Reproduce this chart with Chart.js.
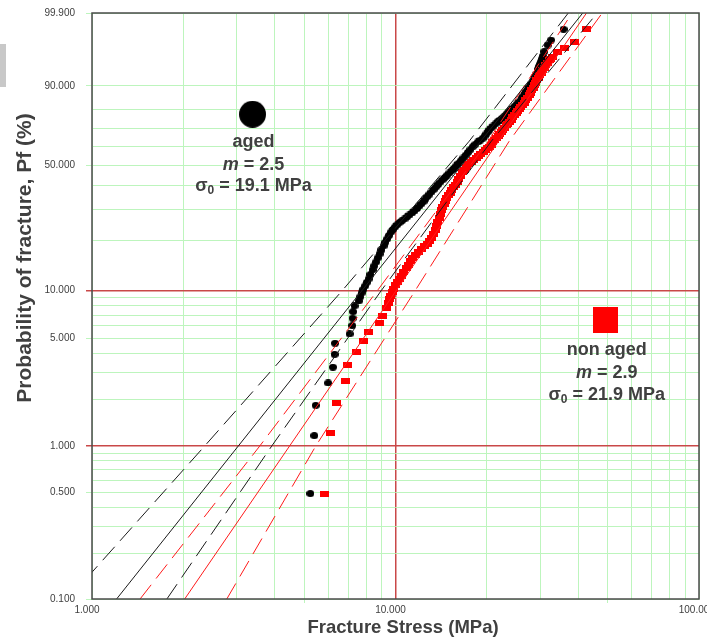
<!DOCTYPE html>
<html>
<head>
<meta charset="utf-8">
<title>Weibull plot - aged / non aged</title>
<script src="https://cdn.jsdelivr.net/npm/chart.js@4.4.1/dist/chart.umd.min.js"></script>
<style>
  html, body { margin: 0; padding: 0; background: #fff; }
  #wrap { position: relative; width: 707px; height: 643px; }
  #tab { position: absolute; left: 0; top: 44px; width: 6px; height: 43px; background: #c8c8c8; }
</style>
</head>
<body>
<div id="wrap">
  <canvas id="weibullChart" width="707" height="643"></canvas>
  <div id="tab"></div>
</div>
<script>
// Aged specimens: fracture stress (MPa) and probability of fracture (%)
const agedStress = [5.24, 5.40, 5.46, 6.00, 6.22, 6.30, 6.32, 7.06, 7.20, 7.22,
    7.25, 7.33, 7.57, 7.65, 7.73, 7.83, 7.94, 8.04, 8.15, 8.27,
    8.40, 8.51, 8.63, 8.74, 8.86, 8.99, 9.13, 9.25, 9.38, 9.52,
    9.67, 9.81, 9.96, 10.13, 10.31, 10.50, 10.71, 10.91, 11.12, 11.33,
    11.55, 11.77, 11.99, 12.18, 12.37, 12.55, 12.74, 12.94, 13.14, 13.36,
    13.59, 13.82, 14.06, 14.30, 14.55, 14.80, 15.05, 15.31, 15.57, 15.84,
    16.12, 16.43, 16.74, 17.03, 17.32, 17.65, 17.98, 18.33, 18.68, 19.03,
    19.38, 19.65, 19.92, 20.15, 20.38, 20.69, 21.01, 21.36, 21.71, 22.05,
    22.40, 22.76, 23.13, 23.42, 23.71, 24.01, 24.31, 24.70, 25.10, 25.50,
    25.91, 26.14, 26.37, 26.64, 26.91, 27.25, 27.60, 27.94, 28.29, 28.58,
    28.87, 29.12, 29.38, 29.57, 29.76, 29.95, 30.15, 30.33, 30.51, 30.91,
    31.70, 32.53, 35.78];
const agedPf = [0.49, 1.17, 1.84, 2.57, 3.25, 3.93, 4.63, 5.31, 6.00, 6.68,
    7.35, 7.99, 8.58, 9.10, 9.62, 10.13, 10.64, 11.19, 11.75, 12.53,
    13.34, 14.12, 14.92, 15.78, 16.66, 17.61, 18.59, 19.50, 20.43, 21.42,
    22.43, 23.18, 23.95, 24.67, 25.41, 25.99, 26.58, 27.27, 27.98, 28.70,
    29.43, 30.37, 31.33, 32.22, 33.13, 34.16, 35.20, 36.17, 37.15, 38.26,
    39.39, 40.55, 41.72, 42.80, 43.89, 45.00, 46.12, 47.26, 48.41, 49.71,
    51.02, 52.48, 53.95, 55.44, 56.94, 58.53, 60.13, 61.44, 62.73, 63.76,
    64.79, 65.97, 67.16, 68.26, 69.36, 70.45, 71.54, 72.69, 73.84, 74.67,
    75.51, 76.41, 77.31, 78.18, 79.06, 79.84, 80.63, 81.63, 82.64, 83.53,
    84.43, 85.28, 86.13, 86.99, 87.85, 88.77, 89.70, 90.54, 91.38, 92.16,
    92.94, 93.58, 94.22, 94.82, 95.42, 95.89, 96.36, 96.80, 97.23, 97.88,
    98.59, 98.99, 99.55];

// Non aged specimens
const nonAgedStress = [5.84, 6.11, 6.41, 6.83, 6.95, 7.44, 7.86, 8.13, 8.86, 9.08,
    9.36, 9.51, 9.58, 9.66, 9.75, 9.85, 10.00, 10.15, 10.30, 10.46,
    10.64, 10.83, 11.01, 11.20, 11.41, 11.63, 11.90, 12.18, 12.46, 12.74,
    12.96, 13.19, 13.36, 13.54, 13.67, 13.80, 13.93, 14.06, 14.19, 14.33,
    14.46, 14.60, 14.77, 14.94, 15.14, 15.34, 15.54, 15.75, 15.96, 16.18,
    16.39, 16.61, 16.86, 17.12, 17.45, 17.78, 18.12, 18.47, 18.78, 19.10,
    19.44, 19.78, 20.08, 20.38, 20.65, 20.93, 21.21, 21.49, 21.78, 22.07,
    22.32, 22.58, 22.88, 23.18, 23.44, 23.71, 24.03, 24.35, 24.65, 24.95,
    25.26, 25.58, 25.90, 26.23, 26.55, 26.87, 27.23, 27.60, 27.86, 28.12,
    28.39, 28.66, 28.93, 29.21, 29.48, 29.76, 30.16, 30.56, 30.93, 31.30,
    31.70, 32.10, 32.50, 32.91, 34.19, 35.97, 38.80, 42.72];
const nonAgedPf = [0.49, 1.21, 1.92, 2.65, 3.34, 4.05, 4.81, 5.49, 6.21, 6.94,
    7.72, 8.37, 8.79, 9.22, 9.70, 10.19, 10.72, 11.26, 11.76, 12.26,
    12.94, 13.62, 14.37, 15.12, 15.78, 16.44, 17.14, 17.84, 18.47, 19.10,
    19.90, 20.71, 21.87, 23.03, 24.30, 25.57, 26.95, 28.34, 29.64, 30.95,
    32.14, 33.33, 34.48, 35.63, 36.83, 38.03, 39.17, 40.31, 41.73, 43.16,
    44.76, 46.37, 47.77, 49.18, 50.49, 51.81, 52.88, 53.95, 55.03, 56.12,
    57.21, 58.31, 59.22, 60.13, 61.29, 62.46, 63.70, 64.95, 66.05, 67.16,
    68.26, 69.36, 70.58, 71.81, 72.82, 73.84, 74.93, 76.03, 77.10, 78.17,
    79.22, 80.28, 81.22, 82.17, 83.30, 84.43, 85.49, 86.55, 87.52, 88.50,
    89.39, 90.29, 91.10, 91.91, 92.63, 93.36, 94.00, 94.63, 95.18, 95.73,
    96.15, 96.58, 96.89, 97.20, 97.88, 98.27, 98.87, 99.55];

// Fitted lines, stress at the two ends (Pf 0.1 % and 99.9 %)
const fitPf = [0.1, 99.9];
const agedFitStress = [1.205, 41.4];
const nonAgedFitStress = [2.02, 42.6];

// Confidence bounds (dashed), stress read at these Pf levels
const boundPf = [0.1, 1, 10, 63.2, 99.9];
const agedBoundLeft = [0.834, 2.35, 6.69, 17.5, 37.1];
const agedBoundRight = [1.765, 3.91, 8.99, 20.7, 46.2];
const nonAgedBoundLeft = [1.44, 3.57, 8.73, 20.2, 38.2];
const nonAgedBoundRight = [2.78, 5.46, 11.63, 23.7, 48.0];

// Legend markers and notes
const agedMarker = [3.38, 77.7];
const nonAgedMarker = [49.3, 6.5];
const agedNote = ['aged', '2.5', '19.1'];
const nonAgedNote = ['non aged', '2.9', '21.9'];

// Axes
const xGrid = [1, 2, 3, 4, 5, 6, 7, 8, 9, 10, 20, 30, 40, 50, 60, 70, 80, 90, 100];
const xLabelAt = [1, 10, 100];
const xLabelText = ['1.000', '10.000', '100.00'];
const yGridPf = [0.1, 0.2, 0.3, 0.4, 0.5, 0.6, 0.7, 0.8, 0.9, 1, 2, 3, 4, 5, 6, 7, 8, 9, 10, 20, 30, 40, 50, 60, 70, 80, 90, 99.9];
const yLabelAt = [0.1, 0.5, 1, 5, 10, 50, 90, 99.9];
const yLabelText = ['0.100', '0.500', '1.000', '5.000', '10.000', '50.000', '90.000', '99.900'];

const FONT = '"Liberation Sans", Arial, sans-serif';
const GREEN = '#bdf5bd';
const RED_GRID = '#c94848';
const TEXT = '#404040';

// Weibull probability transform: ln(-ln(1 - F))
const weib = pf => Math.log(-Math.log(1 - pf / 100));

function pairs(xs, pfs) {
    return xs.map((s, i) => ({ x: s, y: weib(pfs[i]) }));
}

function makeMarker(w, h, color, round) {
    const c = document.createElement('canvas');
    c.width = w; c.height = h;
    const g = c.getContext('2d');
    g.fillStyle = color;
    if (round) {
        g.beginPath();
        g.ellipse(w / 2, h / 2, w / 2, h / 2, 0, 0, Math.PI * 2);
        g.fill();
    } else {
        g.fillRect(0, 0, w, h);
    }
    return c;
}

function lineSet(xs, pfs, color, dashed) {
    return {
        data: pairs(xs, pfs),
        showLine: true,
        borderColor: color,
        borderWidth: 1,
        borderDash: dashed ? [18, 8] : [],
        pointRadius: 0,
        tension: 0,
        order: 0
    };
}

// Text under the legend markers
function drawNote(ctx, cx, cy, note, dy) {
    const [name, m, s0] = note;
    const bold = `bold 18px ${FONT}`;
    const italic = `italic bold 18px ${FONT}`;
    const small = `bold 12px ${FONT}`;
    ctx.fillStyle = TEXT;
    ctx.textBaseline = 'middle';

    ctx.font = bold;
    ctx.textAlign = 'center';
    ctx.fillText(name, cx, cy + dy[0]);

    // m = x.x
    ctx.textAlign = 'left';
    ctx.font = italic;
    const wm = ctx.measureText('m').width;
    ctx.font = bold;
    const rest = ' = ' + m;
    const wr = ctx.measureText(rest).width;
    let x0 = cx - (wm + wr) / 2;
    ctx.font = italic;
    ctx.fillText('m', x0, cy + dy[1]);
    ctx.font = bold;
    ctx.fillText(rest, x0 + wm, cy + dy[1]);

    // sigma0 = xx.x MPa
    const tail = ' = ' + s0 + ' MPa';
    const ws = ctx.measureText('σ').width;
    const wt = ctx.measureText(tail).width;
    ctx.font = small;
    const w0 = ctx.measureText('0').width;
    x0 = cx - (ws + w0 + wt) / 2;
    ctx.font = bold;
    ctx.fillText('σ', x0, cy + dy[2]);
    ctx.font = small;
    ctx.fillText('0', x0 + ws, cy + dy[2] + 5);
    ctx.font = bold;
    ctx.fillText(tail, x0 + ws + w0, cy + dy[2]);
}

const framePlugin = {
    id: 'frameAndText',
    afterDraw(chart) {
        const { ctx, chartArea: a, scales: { x, y } } = chart;
        ctx.save();
        ctx.strokeStyle = '#4a4a4a';
        ctx.lineWidth = 1.5;
        ctx.strokeRect(a.left, a.top, a.right - a.left, a.bottom - a.top);

        // axis titles
        ctx.fillStyle = TEXT;
        ctx.textAlign = 'center';
        ctx.textBaseline = 'middle';
        ctx.font = `bold 18.5px ${FONT}`;
        ctx.fillText('Fracture Stress (MPa)', 403, 628);
        ctx.save();
        ctx.translate(25, 258);
        ctx.rotate(-Math.PI / 2);
        ctx.font = `bold 21px ${FONT}`;
        ctx.fillText('Probability of fracture, Pf (%)', 0, 0);
        ctx.restore();

        drawNote(ctx, x.getPixelForValue(agedMarker[0]) + 1, y.getPixelForValue(weib(agedMarker[1])), agedNote, [27.5, 50.5, 71.5]);
        drawNote(ctx, x.getPixelForValue(nonAgedMarker[0]) + 1, y.getPixelForValue(weib(nonAgedMarker[1])), nonAgedNote, [30, 52.5, 75]);
        ctx.restore();
    }
};

const blackDot = makeMarker(8, 7, '#000', true);
const redSquare = makeMarker(9, 6, '#ff0000', false);

new Chart(document.getElementById('weibullChart'), {
    type: 'scatter',
    data: {
        datasets: [
            lineSet(agedFitStress, fitPf, '#1a1a1a', false),
            lineSet(agedBoundLeft, boundPf, '#1a1a1a', true),
            lineSet(agedBoundRight, boundPf, '#1a1a1a', true),
            lineSet(nonAgedFitStress, fitPf, '#ff1a1a', false),
            lineSet(nonAgedBoundLeft, boundPf, '#ff1a1a', true),
            lineSet(nonAgedBoundRight, boundPf, '#ff1a1a', true),
            { data: pairs(nonAgedStress, nonAgedPf), pointStyle: redSquare, pointRadius: 4, order: 1 },
            { data: pairs(agedStress, agedPf), pointStyle: blackDot, pointRadius: 4, order: 2 },
            { data: [{ x: agedMarker[0], y: weib(agedMarker[1]) }], pointStyle: makeMarker(27, 27, '#000', true), pointRadius: 14, order: 1 },
            { data: [{ x: nonAgedMarker[0], y: weib(nonAgedMarker[1]) }], pointStyle: makeMarker(25, 26, '#ff0000', false), pointRadius: 14, order: 1 }
        ]
    },
    options: {
        responsive: false,
        animation: false,
        layout: { autoPadding: false, padding: { top: 13, right: 8, left: 0, bottom: 0 } },
        plugins: { legend: { display: false }, tooltip: { enabled: false } },
        scales: {
            x: {
                type: 'logarithmic',
                min: 1, max: 100,
                afterBuildTicks: scale => { scale.ticks = xGrid.map(v => ({ value: v })); },
                afterFit: scale => { scale.height = 44; scale.paddingLeft = 0; scale.paddingRight = 0; },
                border: { display: false },
                grid: {
                    color: ctx => (ctx.tick && ctx.tick.value === 10) ? RED_GRID : GREEN,
                    lineWidth: ctx => (ctx.tick && ctx.tick.value === 10) ? 1.5 : 1,
                    tickColor: ctx => (ctx.tick && (ctx.tick.value === 5 || ctx.tick.value === 50)) ? GREEN : 'rgba(0,0,0,0)',
                    tickLength: 4
                },
                ticks: {
                    autoSkip: false,
                    maxRotation: 0,
                    padding: 1,
                    labelOffset: -5,
                    color: TEXT,
                    font: { family: FONT, size: 10 },
                    callback: (v, i) => {
                        const k = xLabelAt.indexOf(xGrid[i]);
                        return k >= 0 ? xLabelText[k] : '';
                    }
                }
            },
            y: {
                type: 'linear',
                min: weib(0.1), max: weib(99.9),
                afterBuildTicks: scale => { scale.ticks = yGridPf.map(p => ({ value: weib(p) })); },
                afterFit: scale => { scale.width = 92; scale.paddingTop = 0; scale.paddingBottom = 0; },
                border: { display: false },
                grid: {
                    color: ctx => {
                        const p = yGridPf[ctx.index];
                        return (p === 1 || p === 10) ? RED_GRID : GREEN;
                    },
                    lineWidth: ctx => {
                        const p = yGridPf[ctx.index];
                        return (p === 1 || p === 10) ? 1.5 : 1;
                    },
                    tickColor: ctx => {
                        const p = yGridPf[ctx.index];
                        if (yLabelAt.indexOf(p) < 0) return 'rgba(0,0,0,0)';
                        return (p === 1 || p === 10) ? RED_GRID : GREEN;
                    },
                    tickLength: 6
                },
                ticks: {
                    autoSkip: false,
                    padding: 11,
                    color: TEXT,
                    font: { family: FONT, size: 10 },
                    callback: (v, i) => {
                        const k = yLabelAt.indexOf(yGridPf[i]);
                        return k >= 0 ? yLabelText[k] : '';
                    }
                }
            }
        }
    },
    plugins: [framePlugin]
});
</script>
</body>
</html>
